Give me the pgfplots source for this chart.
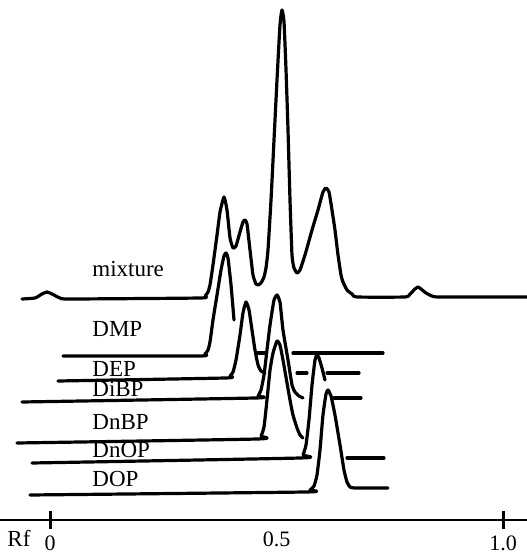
\documentclass[border=0pt]{standalone}
\usepackage{fontspec}
\setmainfont{Liberation Serif}
\usepackage{pgfplots}
\pgfplotsset{compat=1.18}
\begin{document}
\begin{tikzpicture}
\begin{axis}[
  name=ax,
  scale only axis, width=263.5pt, height=276pt,
  xmin=-0.11038, xmax=1.05298, ymin=-32, ymax=520,
  axis x line=middle, axis y line=none,
  axis line style={-, line width=1.3pt},
  xtick={0,1}, xticklabels={0,1.0},
  extra x ticks={0.5}, extra x tick labels={0.5},
  extra x tick style={major tick length=0pt, xticklabel style={yshift=-3pt}},
  major tick length=9pt, tick align=center,
  tick style={line width=1.5pt, black},
  hide obscured x ticks=false,
  /pgf/number format/assume math mode=true,
  xticklabel style={font=\fontsize{11}{13}\selectfont, anchor=base, inner sep=0pt, yshift=-10.5pt},
  clip=false,
  cycle list={{black, solid}},
  every axis plot/.append style={line width=1.6pt, black, solid, no markers, line join=round, line cap=round},
]
% mixture
\addplot[smooth, tension=0.3] coordinates {
(-0.0618,221) (-0.0331,222) (-0.0177,226) (-0.0066,228) (0.0044,226) (0.0221,222) (0.0442,221)
(0.3311,222) (0.3422,224) (0.3488,228) (0.3532,235) (0.3598,255) (0.3687,285) (0.3753,308)
(0.3841,323) (0.3907,310) (0.3974,282) (0.4040,272) (0.4106,274) (0.4194,288) (0.4260,298)
(0.4305,300) (0.4349,296) (0.4415,270) (0.4481,245) (0.4547,236) (0.4592,235) (0.4658,237)
(0.4724,243) (0.4768,252) (0.4812,270) (0.4879,320) (0.4945,380) (0.5011,440) (0.5077,495)
(0.5121,510) (0.5166,498) (0.5210,450) (0.5254,390) (0.5298,320) (0.5342,265) (0.5386,252)
(0.5453,247) (0.5519,250) (0.5629,265) (0.5784,290) (0.5916,310) (0.6026,328) (0.6093,332)
(0.6159,328) (0.6225,310) (0.6291,290) (0.6358,265) (0.6424,245) (0.6468,238) (0.6556,230)
(0.6667,226) (0.6777,223) (0.7837,223) (0.7947,226) (0.8057,231) (0.8124,233) (0.8190,231)
(0.8300,227) (0.8433,224) (0.8609,223) (1.0530,223)
};
% DMP
\addplot[smooth, tension=0.3] coordinates {
(0.0287,164) (0.3311,164) (0.3422,166) (0.3488,170) (0.3532,178) (0.3598,200) (0.3687,225)
(0.3775,250) (0.3841,264) (0.3885,267) (0.3929,262) (0.3996,235) (0.4062,200)
};
\addplot coordinates {(0.4570,167) (0.4746,167)};
\addplot coordinates {(0.5364,167) (0.7351,167)};
% DEP
\addplot[smooth, tension=0.3] coordinates {
(0.0177,139) (0.3863,142) (0.3974,144) (0.4040,148) (0.4106,160) (0.4194,185) (0.4260,207)
(0.4327,218) (0.4393,210) (0.4459,190) (0.4525,170) (0.4592,155) (0.4658,149) (0.4746,147)
};
\addplot coordinates {(0.5453,147) (0.5673,147)};
\addplot coordinates {(0.6115,147) (0.6821,147)};
% DiBP
\addplot[smooth, tension=0.3] coordinates {
(-0.0618,118) (0.4525,122) (0.4592,124) (0.4658,130) (0.4724,145) (0.4790,170) (0.4857,195)
(0.4945,220) (0.5011,225) (0.5077,218) (0.5143,190) (0.5254,160) (0.5342,135) (0.5408,128)
(0.5497,124) (0.5585,122)
};
\addplot coordinates {(0.6269,122) (0.6865,122)};
% DnBP
\addplot[smooth, tension=0.3] coordinates {
(-0.0728,77) (0.4570,81) (0.4658,84) (0.4724,93) (0.4790,120) (0.4857,150) (0.4923,167)
(0.5011,179) (0.5077,175) (0.5143,160) (0.5298,120) (0.5364,105) (0.5453,92) (0.5519,85)
(0.5585,82)
};
% DnOP
\addplot[smooth, tension=0.3] coordinates {
(-0.0397,57) (0.5519,62) (0.5585,65) (0.5651,75) (0.5717,100) (0.5784,135) (0.5850,160)
(0.5894,165) (0.5938,162) (0.6004,152) (0.6071,140)
};
\addplot coordinates {(0.6556,62) (0.7373,62)};
% DOP
\addplot[smooth, tension=0.3] coordinates {
(-0.0442,25) (0.5629,28) (0.5740,30) (0.5828,34) (0.5894,45) (0.5960,70) (0.6026,105)
(0.6093,126) (0.6137,130) (0.6203,124) (0.6291,105) (0.6402,75) (0.6490,50) (0.6556,38)
(0.6623,33) (0.6733,32) (0.7461,32)
};
\begin{scope}[every node/.style={font=\fontsize{11.5}{13}\selectfont, anchor=base west, inner sep=0pt}]
\node at (axis cs:0.0927,243) {mixture};
\node at (axis cs:0.0927,183) {DMP};
\node at (axis cs:0.0927,143) {DEP};
\node at (axis cs:0.0927,123) {DiBP};
\node at (axis cs:0.0927,90) {DnBP};
\node at (axis cs:0.0927,62) {DnOP};
\node at (axis cs:0.0927,33) {DOP};
\node at (axis cs:-0.0949,-27) {Rf};
\end{scope}
\end{axis}
\pgfresetboundingbox
\path[use as bounding box] (ax.south west) rectangle (ax.north east);
\end{tikzpicture}
\end{document}
